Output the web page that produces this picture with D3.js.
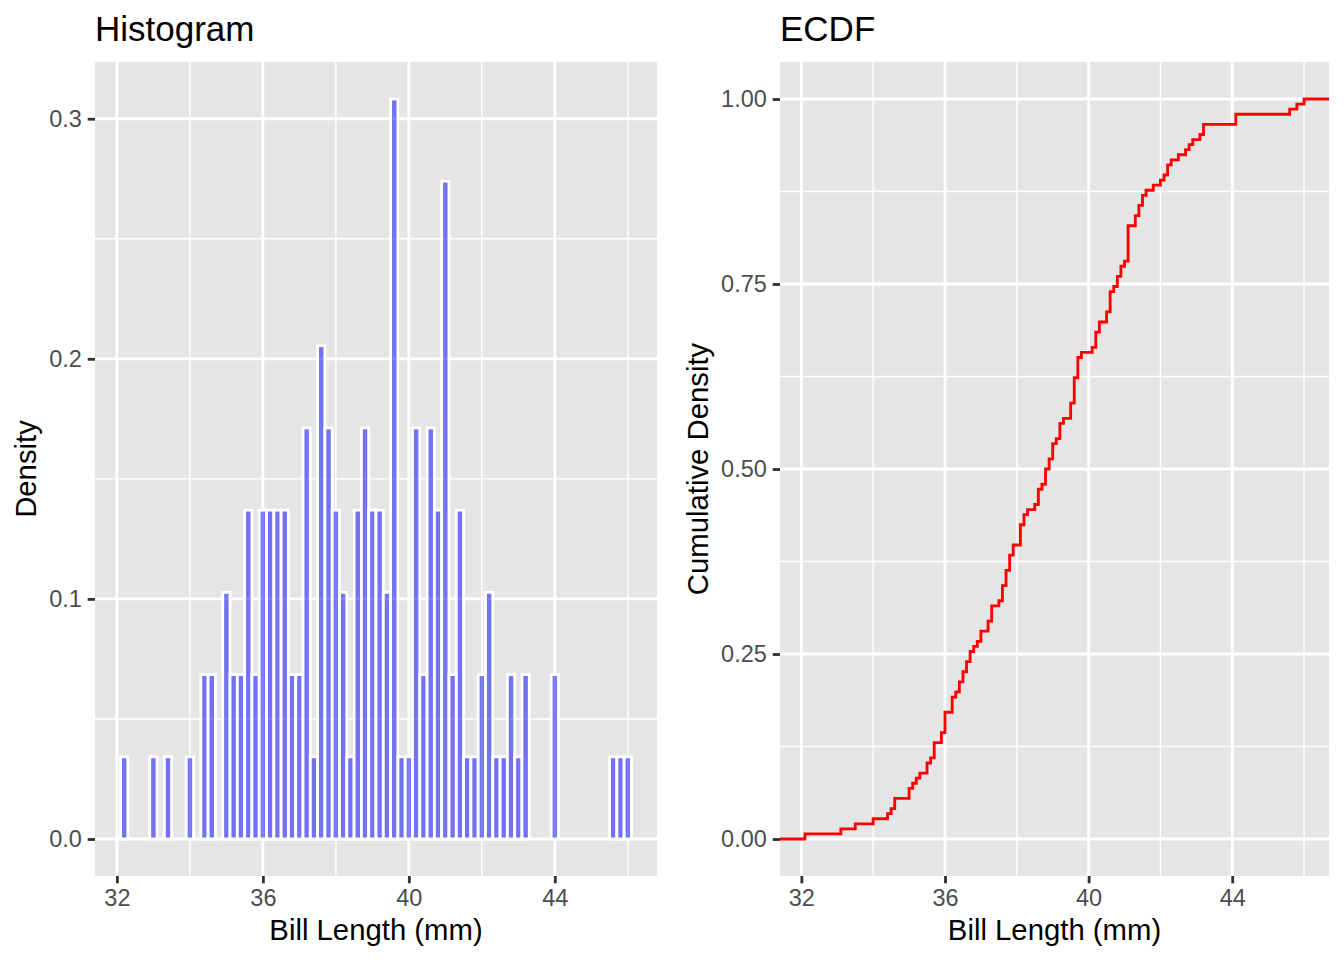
<!DOCTYPE html>
<html>
<head>
<meta charset="utf-8">
<script src="https://cdn.jsdelivr.net/npm/d3@7"></script>
<style>
  body { margin: 0; background: #fff; }
  text { font-family: "Liberation Sans", Arial, Helvetica, sans-serif; }
</style>
</head>
<body>
<div id="chart"></div>
<script>
// Adelie bill lengths (mm), n = 146
const billLength = [
  39.1, 39.5, 40.3, 36.7, 39.3, 38.9, 39.2, 41.1, 38.6, 34.6,
  36.6, 38.7, 42.5, 34.4, 46.0, 37.8, 37.7, 35.9, 38.2, 38.8,
  35.3, 40.6, 40.5, 37.9, 40.5, 39.5, 37.2, 39.5, 40.9, 36.4,
  39.2, 38.8, 42.2, 37.6, 39.8, 36.5, 40.8, 36.0, 44.1, 37.0,
  39.6, 41.1, 36.0, 42.3, 39.6, 40.1, 35.0, 42.0, 34.5, 41.4,
  39.0, 40.6, 36.5, 37.6, 35.7, 41.3, 37.6, 41.1, 36.4, 41.6,
  35.5, 41.1, 35.9, 41.8, 33.5, 39.7, 39.6, 45.8, 35.5, 42.8,
  40.9, 37.2, 36.2, 42.1, 34.6, 42.9, 36.7, 35.1, 37.3, 41.3,
  36.3, 36.9, 38.3, 38.9, 35.7, 41.1, 34.0, 39.6, 36.2, 40.8,
  38.1, 40.3, 33.1, 43.2, 35.0, 41.0, 37.7, 37.8, 37.9, 39.7,
  38.6, 38.2, 38.1, 43.2, 38.1, 45.6, 39.7, 42.2, 39.6, 42.7,
  38.6, 37.3, 35.7, 41.1, 36.2, 37.7, 40.2, 41.4, 35.2, 40.6,
  38.8, 41.5, 39.0, 44.1, 38.5, 43.1, 36.8, 37.5, 38.1, 41.1,
  35.6, 40.2, 37.0, 39.7, 40.2, 40.6, 32.1, 40.7, 37.3, 39.0,
  39.2, 36.6, 36.0, 37.8, 36.0, 41.5
];

// histogram bins as drawn (width 0.2), empty bins left out
const binMid = [32.2, 33.0, 33.4, 34.0, 34.4, 34.6, 35.0, 35.2, 35.4, 35.6, 35.8,
  36.0, 36.2, 36.4, 36.6, 36.8, 37.0, 37.2, 37.4, 37.6, 37.8, 38.0, 38.2, 38.4, 38.6, 38.8,
  39.0, 39.2, 39.4, 39.6, 39.8, 40.0, 40.2, 40.4, 40.6, 40.8, 41.0, 41.2, 41.4, 41.6, 41.8,
  42.0, 42.2, 42.4, 42.6, 42.8, 43.0, 43.2, 44.0, 45.6, 45.8, 46.0];
const binCount = [1, 1, 1, 1, 2, 2, 3, 2, 2, 4, 2,
  4, 4, 4, 4, 2, 2, 5, 1, 6, 5, 4, 3, 1, 4, 5,
  4, 4, 3, 9, 1, 1, 5, 2, 5, 4, 8, 2, 4, 1, 1,
  2, 3, 1, 1, 2, 1, 2, 2, 1, 1, 1];
const binWidth = 0.2;

const xTicks = [32, 36, 40, 44];
const histYTicks = [0, 0.1, 0.2, 0.3];
const ecdfYTicks = [0, 0.25, 0.5, 0.75, 1];

const W = 1344, H = 960;
const panelTop = 62, panelBottom = 876;
const majorW = 2.84, minorW = 1.42;

const svg = d3.select('#chart').append('svg')
  .attr('width', W)
  .attr('height', H)
  .style('background-color', '#fff');

const expand = ([lo, hi]) => [lo - 0.05 * (hi - lo), hi + 0.05 * (hi - lo)];

// minor breaks sit half way between majors
const minors = (ticks, dom) => {
  const step = ticks[1] - ticks[0];
  const out = [ticks[0] - step / 2];
  ticks.forEach(t => out.push(t + step / 2));
  return out.filter(v => v > dom[0] && v < dom[1]);
};

function drawPanel({ left, right, xDom, yDom, yTicks, yFormat, title, yLabel, yLabelX }) {
  const x = d3.scaleLinear().domain(xDom).range([left, right]);
  const y = d3.scaleLinear().domain(yDom).range([panelBottom, panelTop]);
  const g = svg.append('g');

  g.append('rect')
    .attr('x', left).attr('y', panelTop)
    .attr('width', right - left).attr('height', panelBottom - panelTop)
    .attr('fill', '#E5E5E5');

  const grid = g.append('g').attr('stroke', '#fff');
  grid.selectAll('.vmin').data(minors(xTicks, xDom)).enter().append('line')
    .attr('x1', d => x(d)).attr('x2', d => x(d))
    .attr('y1', panelTop).attr('y2', panelBottom).attr('stroke-width', minorW);
  grid.selectAll('.hmin').data(minors(yTicks, yDom)).enter().append('line')
    .attr('y1', d => y(d)).attr('y2', d => y(d))
    .attr('x1', left).attr('x2', right).attr('stroke-width', minorW);
  grid.selectAll('.vmaj').data(xTicks).enter().append('line')
    .attr('x1', d => x(d)).attr('x2', d => x(d))
    .attr('y1', panelTop).attr('y2', panelBottom).attr('stroke-width', majorW);
  grid.selectAll('.hmaj').data(yTicks).enter().append('line')
    .attr('y1', d => y(d)).attr('y2', d => y(d))
    .attr('x1', left).attr('x2', right).attr('stroke-width', majorW);

  const xAxis = svg.append('g')
    .attr('transform', `translate(0,${panelBottom})`)
    .call(d3.axisBottom(x).tickValues(xTicks).tickSize(7.3).tickPadding(5.9).tickFormat(d3.format('d')));
  const yAxis = svg.append('g')
    .attr('transform', `translate(${left},0)`)
    .call(d3.axisLeft(y).tickValues(yTicks).tickSize(7.3).tickPadding(5.9).tickFormat(d3.format(yFormat)));
  [xAxis, yAxis].forEach(a => {
    a.select('.domain').remove();
    a.selectAll('line').attr('stroke', '#333333').attr('stroke-width', majorW);
    a.selectAll('text').attr('fill', '#4D4D4D').attr('font-size', 23.5);
  });

  svg.append('text')
    .attr('x', left).attr('y', 41)
    .attr('font-size', 35)
    .attr('fill', '#000')
    .text(title);

  svg.append('text')
    .attr('x', (left + right) / 2).attr('y', 940)
    .attr('text-anchor', 'middle')
    .attr('font-size', 29.3)
    .attr('fill', '#000')
    .text('Bill Length (mm)');

  svg.append('text')
    .attr('transform', `translate(${yLabelX},${(panelTop + panelBottom) / 2}) rotate(-90)`)
    .attr('text-anchor', 'middle')
    .attr('font-size', 29.3)
    .attr('fill', '#000')
    .text(yLabel);

  return { g, x, y };
}

// ---- Histogram ----
const n = d3.sum(binCount);
const density = binCount.map(c => c / (n * binWidth));
const hist = drawPanel({
  left: 95, right: 657,
  xDom: expand([binMid[0] - binWidth / 2, binMid[binMid.length - 1] + binWidth / 2]),
  yDom: expand([0, d3.max(density)]),
  yTicks: histYTicks, yFormat: '.1f',
  title: 'Histogram', yLabel: 'Density', yLabelX: 36
});

hist.g.append('g').selectAll('rect')
  .data(binMid)
  .enter()
  .append('rect')
  .attr('x', d => hist.x(d - binWidth / 2))
  .attr('width', d => hist.x(d + binWidth / 2) - hist.x(d - binWidth / 2))
  .attr('y', (d, i) => hist.y(density[i]))
  .attr('height', (d, i) => hist.y(0) - hist.y(density[i]))
  .attr('fill', 'blue')
  .attr('fill-opacity', 0.5)
  .attr('stroke', '#fff')
  .attr('stroke-width', 2.84);

// ---- ECDF ----
const sorted = billLength.slice().sort(d3.ascending);
const steps = d3.rollups(sorted, v => v.length, d => d);
let cum = 0;
const ecdfPts = steps.map(([v, c]) => { cum += c; return [v, cum / sorted.length]; });

const ecdf = drawPanel({
  left: 780, right: 1329,
  xDom: expand(d3.extent(sorted)),
  yDom: expand([0, 1]),
  yTicks: ecdfYTicks, yFormat: '.2f',
  title: 'ECDF', yLabel: 'Cumulative Density', yLabelX: 708
});

const [xl, xr] = ecdf.x.range();
const linePts = [[null, 0], ...ecdfPts, [null, 1]];
ecdf.g.append('path')
  .datum(linePts)
  .attr('fill', 'none')
  .attr('stroke', 'red')
  .attr('stroke-width', 2.84)
  .attr('d', d3.line()
    .x((d, i) => d[0] === null ? (i === 0 ? xl : xr) : ecdf.x(d[0]))
    .y(d => ecdf.y(d[1]))
    .curve(d3.curveStepAfter));
</script>
</body>
</html>
